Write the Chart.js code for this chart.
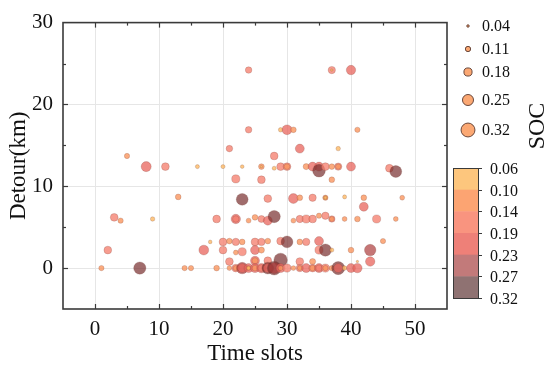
<!DOCTYPE html>
<html><head><meta charset="utf-8">
<script src="https://cdn.jsdelivr.net/npm/chart.js@4"></script>
<style>html,body{margin:0;padding:0;background:#fff}</style>
</head><body>
<canvas id="c" width="550" height="372" style="width:550px;height:372px;display:block"></canvas>
<script>
const timeSlots = [24,37,37,40,24,29,30,31,41,21,32,38,5,28,
 8,11,16,20,23,26,26,28,29,30,30,33,34,35,35,36,37,38,38,40,46,47,
 22,26,37,
 13,23,27,31,32,34,36,36,36,39,42,48,42,
 3,4,9,19,22,22,24,25,26,27,28,31,32,33,34,35,36,37,37,39,41,44,47,
 18,20,21,22,23,25,26,27,29,30,32,33,35,45,
 2,17,20,22,23,25,26,35,36,37,40,43,
 21,25,25,27,29,32,34,41,43,
 1,7,14,15,19,21,22,22,23,23,24,24,24,25,25,26,26,27,27,28,28,29,29,30,31,32,32,33,34,34,35,35,36,36,37,38,38,39,40,41];
const detours = [24.2,24.2,24.2,24.2,16.9,16.9,16.9,16.9,16.9,14.6,14.6,14.6,13.7,13.7,
 12.4,12.4,12.4,12.4,12.4,12.4,12.4,12.2,12.4,12.4,12.4,12.4,12.4,12.4,11.9,12.4,12.4,12.4,12.4,12.4,12.2,11.8,
 10.9,10.8,10.8,
 8.7,8.4,8.5,8.5,8.6,8.6,8.6,8.6,8.6,8.7,8.6,8.6,7.5,
 6.2,5.8,6.0,6.0,6.0,6.0,5.8,6.2,6.0,5.8,6.3,5.8,6.0,6.0,6.0,6.4,6.4,6.0,6.0,6.0,6.0,6.0,6.0,
 3.2,3.2,3.3,3.2,3.2,3.2,3.2,3.3,3.3,3.2,3.2,3.2,3.3,3.3,
 2.2,2.2,2.2,1.9,2.0,2.2,2.2,2.2,2.2,2.2,2.2,2.2,
 0.8,0.9,0.9,0.9,1.0,0.8,0.8,0.8,0.8,
 0,0,0,0,0,0,0,0,0,0,0,0,0,0,0,0,0,0,0,0,0,0,0,0,0,0,0,0,0,0,0,0,0,0,0,0,0,0,0,0];
const socValues = [0.14,0.16,0.04,0.21,0.14,0.09,0.22,0.12,0.11,0.14,0.20,0.09,0.11,0.17,
 0.225,0.17,0.08,0.08,0.07,0.12,0.04,0.08,0.17,0.17,0.12,0.13,0.20,0.20,0.29,0.17,0.12,0.16,0.11,0.20,0.17,0.27,
 0.18,0.17,0.12,
 0.12,0.27,0.17,0.22,0.12,0.16,0.11,0.08,0.05,0.08,0.12,0.10,0.20,
 0.17,0.11,0.09,0.17,0.21,0.14,0.10,0.12,0.15,0.20,0.28,0.10,0.16,0.18,0.17,0.11,0.16,0.14,0.10,0.10,0.12,0.18,0.10,
 0.07,0.17,0.12,0.16,0.12,0.17,0.16,0.12,0.17,0.27,0.12,0.16,0.20,0.11,
 0.17,0.22,0.17,0.10,0.18,0.20,0.13,0.18,0.28,0.08,0.12,0.26,
 0.17,0.20,0.13,0.17,0.31,0.17,0.13,0.04,0.21,
 0.11,0.28,0.11,0.11,0.12,0.10,0.17,0.11,0.26,0.20,0.20,0.10,0.07,0.20,0.12,0.21,0.15,0.27,0.20,0.32,0.25,0.20,0.10,0.18,0.10,0.16,0.10,0.20,0.17,0.12,0.20,0.14,0.18,0.11,0.11,0.30,0.20,0.09,0.20,0.21];
const xTicks = [0,10,20,30,40,50];
const yTicks = [0,10,20,30];
const sizeLegendValues = [0.04,0.11,0.18,0.25,0.32];
const colorbarTicks = [0.06,0.10,0.14,0.19,0.23,0.27,0.32];

const SERIF = "'Liberation Serif','Times New Roman',serif";
const pointColors = ['rgba(253,185,100,0.8)','rgba(250,150,95,0.8)','rgba(245,128,112,0.78)',
                     'rgba(232,100,92,0.75)','rgba(172,60,60,0.7)','rgba(120,45,45,0.7)'];
const barColors = ['#fdc67d','#fca472','#f9947f','#ee8078','#c27a7a','#8f7272'];
function binIndex(v){
  for (let i = 1; i < colorbarTicks.length - 1; i++) if (v < colorbarTicks[i]) return i - 1;
  return colorbarTicks.length - 2;
}
const radiusOf = v => 0.4 + v * 20.5;

const points = timeSlots.map((x, i) => ({x: x, y: detours[i], soc: socValues[i]}));

const deco = {
  id: 'deco',
  afterDraw(chart) {
    const {ctx, chartArea: a, scales: {x, y}} = chart;
    ctx.save();
    const line = (x1,y1,x2,y2) => { ctx.beginPath(); ctx.moveTo(x1,y1); ctx.lineTo(x2,y2); ctx.stroke(); };
    ctx.strokeStyle = '#3a3a3a';
    ctx.lineWidth = 1.2;
    for (let v = 0; v <= 50; v += 5) {
      const p = Math.round(x.getPixelForValue(v)) + 0.5, L = v % 10 === 0 ? 5 : 3;
      line(p, a.bottom, p, a.bottom - L); line(p, a.top, p, a.top + L);
    }
    for (let v = 0; v <= 25; v += 5) {
      const p = Math.round(y.getPixelForValue(v)) + 0.5, L = v % 10 === 0 ? 5 : 3;
      line(a.left, p, a.left + L, p); line(a.right, p, a.right - L, p);
    }
    ctx.lineWidth = 1.6;
    ctx.strokeRect(a.left, a.top, a.right - a.left, a.bottom - a.top);

    // size legend
    const ly = [26, 49, 72, 100, 130];
    ctx.font = '16px ' + SERIF; ctx.fillStyle = '#111'; ctx.textBaseline = 'middle'; ctx.textAlign = 'left';
    sizeLegendValues.forEach((v, i) => {
      ctx.beginPath(); ctx.arc(468, ly[i], radiusOf(v), 0, Math.PI * 2);
      ctx.fillStyle = '#fba873'; ctx.fill();
      ctx.lineWidth = 0.9; ctx.strokeStyle = '#5a3a30'; ctx.stroke();
      ctx.fillStyle = '#111'; ctx.fillText(v.toFixed(2), 482, ly[i] + 1);
    });

    // colorbar
    const cbL = 453, cbR = 478, cbT = 168, cbB = 298;
    const n = colorbarTicks.length - 1, h = (cbB - cbT) / n;
    for (let i = 0; i < n; i++) {
      ctx.fillStyle = barColors[i];
      ctx.fillRect(cbL, cbT + i * h, cbR - cbL, h + 0.5);
    }
    ctx.strokeStyle = '#3a3a3a'; ctx.lineWidth = 1;
    ctx.strokeRect(cbL + 0.5, cbT + 0.5, cbR - cbL, cbB - cbT);
    colorbarTicks.forEach((v, i) => {
      const p = Math.round(cbT + i * h) + 0.5;
      line(cbR, p, cbR + 4, p);
      ctx.fillStyle = '#111';
      ctx.fillText(v.toFixed(2), 490, p + 1);
    });

    // SOC title
    ctx.save();
    ctx.translate(538, 126); ctx.rotate(-Math.PI / 2);
    ctx.font = '24px ' + SERIF; ctx.textAlign = 'center'; ctx.fillStyle = '#111';
    ctx.fillText('SOC', 0, 0);
    ctx.restore();
    ctx.restore();
  }
};

new Chart(document.getElementById('c'), {
  type: 'bubble',
  data: { datasets: [{
    data: points,
    radius: ctx => radiusOf(ctx.raw.soc),
    backgroundColor: ctx => pointColors[binIndex(ctx.raw.soc)],
    borderColor: 'rgba(110,60,50,0.35)',
    borderWidth: 0.6
  }]},
  options: {
    responsive: false, animation: false, devicePixelRatio: 1,
    events: [],
    layout: { padding: { top: 16, right: 103, left: 0, bottom: 0 } },
    plugins: { legend: { display: false }, tooltip: { enabled: false } },
    scales: {
      x: {
        type: 'linear', min: -5, max: 55,
        afterBuildTicks: s => { s.ticks = xTicks.map(v => ({value: v})); },
        afterFit: s => { s.height = 63; },
        grid: { color: '#e6e6e6', lineWidth: 1, drawTicks: false },
        border: { display: false },
        ticks: { padding: 8, color: '#111', font: { family: SERIF, size: 21 }, maxRotation: 0 },
        title: { display: true, text: 'Time slots', color: '#111', font: { family: SERIF, size: 23 }, padding: { top: 0, bottom: 4 } }
      },
      y: {
        type: 'linear', min: -5, max: 30,
        afterBuildTicks: s => { s.ticks = yTicks.map(v => ({value: v})); },
        afterFit: s => { s.width = 63; },
        grid: { color: '#e6e6e6', lineWidth: 1, drawTicks: false },
        border: { display: false },
        ticks: { padding: 10, color: '#111', font: { family: SERIF, size: 21 } },
        title: { display: true, text: 'Detour(km)', color: '#111', font: { family: SERIF, size: 23 }, padding: { top: 5, bottom: 0 } }
      }
    }
  },
  plugins: [deco]
});
</script>
</body></html>
